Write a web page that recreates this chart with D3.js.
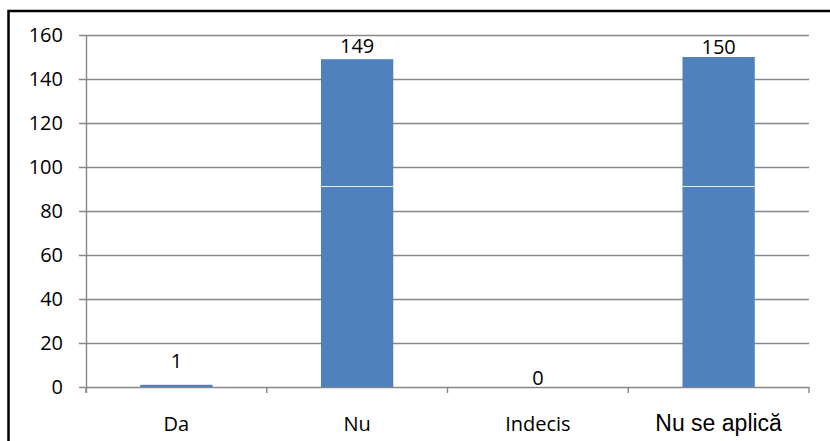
<!DOCTYPE html>
<html><head><meta charset="utf-8">
<script src="https://cdn.jsdelivr.net/npm/d3@7"></script>
<style>html,body{margin:0;padding:0;background:#fff;}svg{display:block;}</style>
</head><body>
<svg id="chart" width="830" height="441"></svg>
<script>
const categories = ["Da", "Nu", "Indecis", "Nu se aplică"];
const values = [1, 149, 0, 150];
const yTicks = [0, 20, 40, 60, 80, 100, 120, 140, 160];
const seamValue = 91.4;

const svg = d3.select("#chart");
const W = 830, H = 441;
const m = {left: 86, right: 21, top: 35, bottom: 54};
const x = d3.scaleBand().domain(categories).range([m.left, W - m.right]).paddingInner(0.6).paddingOuter(0.3);
const y = d3.scaleLinear().domain([0, 160]).range([H - m.bottom, m.top]);

// outer border
svg.append("rect").attr("x", 8.5).attr("y", 11).attr("width", 830).attr("height", 440)
  .attr("fill", "none").attr("stroke", "#000").attr("stroke-width", 2.5);

const grid = "#878787";
// gridlines + y ticks
svg.append("g").selectAll("line").data(yTicks).join("line")
  .attr("x1", m.left - 7).attr("x2", W - m.right)
  .attr("y1", d => Math.round(y(d)) + 0.5).attr("y2", d => Math.round(y(d)) + 0.5)
  .attr("stroke", grid).attr("stroke-width", 1.4);
// y axis line
svg.append("line").attr("x1", m.left + 0.5).attr("x2", m.left + 0.5)
  .attr("y1", y(160)).attr("y2", y(0) + 6).attr("stroke", grid).attr("stroke-width", 1.4);
// x category boundary ticks
const step = x.step();
const bounds = d3.range(categories.length + 1).map(i => m.left + i * step);
svg.append("g").selectAll("line").data(bounds).join("line")
  .attr("x1", d => d).attr("x2", d => d)
  .attr("y1", y(0)).attr("y2", y(0) + 6).attr("stroke", grid).attr("stroke-width", 1.4);

// y labels
svg.append("g").selectAll("text").data(yTicks).join("text")
  .attr("x", 63).attr("y", d => y(d)).attr("dy", "0.36em")
  .attr("text-anchor", "end").attr("font-family", "Open Sans").attr("font-size", 20).attr("fill", "#000")
  .text(d => d);

// bars
svg.append("g").selectAll("rect").data(values).join("rect")
  .attr("x", (d, i) => x(categories[i])).attr("width", x.bandwidth())
  .attr("y", d => y(d)).attr("height", d => y(0) - y(d))
  .attr("fill", "#4F81BD");
// seam
svg.append("g").selectAll("line").data(values.map((v, i) => ({v, i})).filter(d => d.v > seamValue)).join("line")
  .attr("x1", d => x(categories[d.i])).attr("x2", d => x(categories[d.i]) + x.bandwidth())
  .attr("y1", Math.round(y(seamValue)) + 0.5).attr("y2", Math.round(y(seamValue)) + 0.5)
  .attr("stroke", "#e8eef7").attr("stroke-width", 1.2);

// value labels
const labelGap = {"Da": 17, "Nu": 6, "Indecis": 2, "Nu se aplică": 3};
svg.append("g").selectAll("text").data(values).join("text")
  .attr("x", (d, i) => x(categories[i]) + x.bandwidth() / 2)
  .attr("y", (d, i) => y(d) - labelGap[categories[i]])
  .attr("text-anchor", "middle").attr("font-family", "Open Sans").attr("font-size", 20).attr("fill", "#000")
  .text(d => d);

// x labels
svg.append("g").selectAll("text").data(categories).join("text")
  .attr("x", d => x(d) + x.bandwidth() / 2).attr("y", 431)
  .attr("text-anchor", "middle")
  .attr("font-family", d => d === "Nu se aplică" ? "Liberation Sans" : "Open Sans")
  .attr("font-size", d => d === "Nu se aplică" ? 23 : 20)
  .attr("fill", "#000")
  .text(d => d);
</script>
</body></html>
